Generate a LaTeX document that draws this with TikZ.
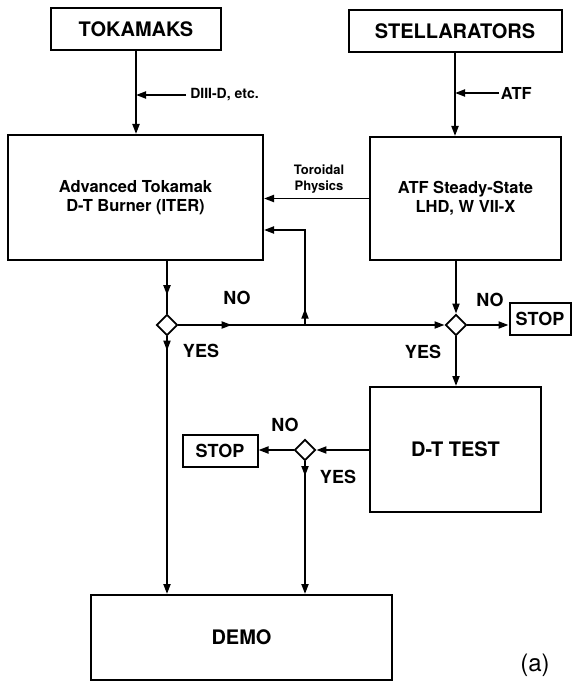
\documentclass[tikz,border=0pt]{standalone}
\usepackage{fontspec}
\setmainfont{TeX Gyre Heros}
\usetikzlibrary{arrows.meta, shapes.geometric, decorations.markings}

\begin{document}
\begin{tikzpicture}[
  x=1pt, y=-1pt, line width=1.9pt,
  >={Triangle[length=10pt,width=7pt]},
  every node/.style={font=\bfseries},
  blk/.style={draw, line width=2pt, inner sep=0pt},
  dec/.style={draw, diamond, fill=white, line width=1.9pt,
              minimum width=21pt, minimum height=21pt, inner sep=0pt},
  bigtxt/.style={font=\bfseries\fontsize{20}{22}\selectfont},
  bodytxt/.style={font=\bfseries\fontsize{16.5}{18.5}\selectfont, align=center},
  smalltxt/.style={font=\bfseries\fontsize{13}{16}\selectfont, align=center},
  answer/.style={font=\bfseries\fontsize{18}{20}\selectfont},
  tipat/.style={postaction={decorate},
    decoration={markings, mark=at position #1 with {\arrow{>}}}}
]
\useasboundingbox (0,0) rectangle (573,682);

% Sources
\node[blk, bigtxt, minimum width=170pt, minimum height=42pt] (tok) at (136,29) {TOKAMAKS};
\node[blk, bigtxt, minimum width=213pt, minimum height=42pt] (stel) at (455,31) {STELLARATORS};

% Devices
\node[blk, bodytxt, minimum width=255pt, minimum height=125pt] (adv) at (135.5,197.5)
  {Advanced Tokamak\\D-T Burner (ITER)};
\node[blk, bodytxt, minimum width=191pt, minimum height=123pt] (atf) at (465.5,198.5)
  {ATF Steady-State\\LHD, W VII-X};
\node[blk, bigtxt, minimum width=171pt, minimum height=125pt] (dt) at (455.5,449.5) {D-T TEST};
\node[blk, bigtxt, minimum width=301pt, minimum height=85pt] (demo) at (241.5,637.5) {DEMO};

% Decisions and stops
\node[dec] (qA) at (167,325) {};
\node[dec] (qB) at (456,325) {};
\node[dec] (qC) at (305,450) {};
\node[blk, answer, minimum width=61pt, minimum height=32pt] (stopA) at (540,319) {STOP};
\node[blk, answer, minimum width=75pt, minimum height=32pt] (stopB) at (220,451) {STOP};

% Side inputs
\node[smalltxt, font=\bfseries\fontsize{14}{16}\selectfont, anchor=west] (diii) at (186,95) {DIII-D, etc.};
\node[bodytxt, anchor=west, inner sep=1pt] (atflab) at (499,93) {ATF};
\node[smalltxt] (tor) at (319,179) {Toroidal\\Physics};

\draw[->] (tok.south) -- (tok.south |- adv.north);
\draw[->] (diii.west) -- (diii.west -| tok.south);
\draw[->] (stel.south) -- (stel.south |- atf.north);
\draw[->] (atflab.west) -- (atflab.west -| stel.south);
\draw[->] (atf.west) -- (atf.west -| adv.east);

% Flow
\draw[tipat=0.65] (qA.north |- adv.south) -- (qA.north);
\draw[->] (qB.north |- atf.south) -- (qB.north);
\draw[->, tipat=0.2] (qA.east) -- (qB.west);
\coordinate (fb) at (305,325);
\coordinate (fbtop) at (305,230);
\draw[->, tipat=0.12] (fb) -- (fbtop) -- (fbtop -| adv.east);
\draw[->] (qB.east) -- (qB.east -| stopA.west);
\draw[->] (qB.south) -- (qB.south |- dt.north);
\draw[->] (dt.west |- qC.east) -- (qC.east);
\draw[->] (qC.west) -- (qC.west -| stopB.east);
\draw[->, tipat=0.11] (qC.south) -- (qC.south |- demo.north);
\draw[->, tipat=0.055] (qA.south) -- (qA.south |- demo.north);

% Answers
\node[answer] (noA) at (237,298) {NO};
\node[answer] (yesA) at (201,351) {YES};
\node[answer] (noB) at (490,300) {NO};
\node[answer] (yesB) at (423,352) {YES};
\node[answer] (noC) at (285,425) {NO};
\node[answer] (yesC) at (338,477) {YES};

\node[font=\fontsize{24}{26}\selectfont] (tag) at (535,665) {(a)};
\end{tikzpicture}
\end{document}
